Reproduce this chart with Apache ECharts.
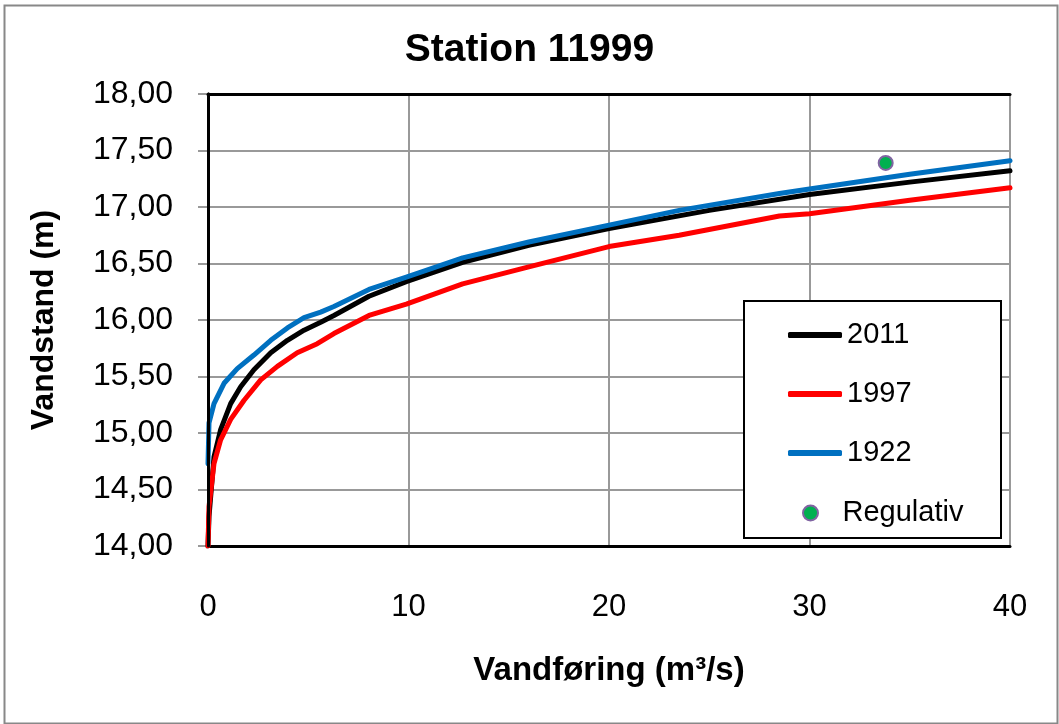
<!DOCTYPE html>
<html>
<head>
<meta charset="utf-8">
<script src="https://cdn.jsdelivr.net/npm/echarts@6/dist/echarts.min.js"></script>
<style>
html,body{margin:0;padding:0;background:#fff;}
#c{width:1059px;height:724px;}
</style>
</head>
<body>
<div id="c"></div>
<script>
// Data (Q in m3/s, H in m)
const q2011 = [0, 0.05, 0.3, 0.63, 1.13, 1.63, 2.29, 3.13, 3.96, 4.79, 5.62, 6.28, 8.03, 9.89, 12.7, 16, 20, 25, 30, 35, 40];
const h2011 = [14.0, 14.26, 14.79, 15.03, 15.26, 15.41, 15.56, 15.71, 15.82, 15.91, 15.98, 16.04, 16.21, 16.34, 16.51, 16.66, 16.81, 16.97, 17.11, 17.22, 17.32];
const q1997 = [0, 0.05, 0.3, 0.63, 1.13, 1.8, 2.63, 3.46, 4.45, 5.45, 6.28, 8.03, 9.89, 12.7, 16, 20, 23.5, 28.5, 30, 35, 40];
const h1997 = [14.0, 14.35, 14.73, 14.94, 15.12, 15.29, 15.47, 15.59, 15.71, 15.79, 15.88, 16.04, 16.14, 16.32, 16.47, 16.65, 16.75, 16.92, 16.94, 17.06, 17.17];
const q1922 = [0, 0.05, 0.3, 0.8, 1.46, 2.29, 3.13, 3.96, 4.79, 5.62, 6.28, 8.03, 9.89, 12.7, 16, 20, 23.5, 28.5, 30, 35, 40];
const h1922 = [14.73, 15.09, 15.26, 15.44, 15.57, 15.69, 15.82, 15.93, 16.02, 16.07, 16.12, 16.27, 16.38, 16.55, 16.69, 16.84, 16.97, 17.12, 17.16, 17.29, 17.41];
const qReg = [33.8];
const hReg = [17.39];
const seriesNames = ['2011', '1997', '1922', 'Regulativ'];
const title = 'Station 11999';
const xName = 'Vandføring (m³/s)';
const yName = 'Vandstand (m)';

const zip = (a, b) => a.map((v, i) => [v, b[i]]);
const FONT = 'Liberation Sans';

const chart = echarts.init(document.getElementById('c'), null, {renderer: 'canvas'});
const lineSeries = (name, q, h, color) => ({
  name, type: 'line', data: zip(q, h), showSymbol: false, symbol: 'none',
  lineStyle: {color, width: 5, cap: 'round', join: 'round'}, itemStyle: {color},
  animation: false, z: 3
});
chart.setOption({
  animation: false,
  backgroundColor: '#fff',
  title: {
    text: title, left: 'center', top: 26,
    textStyle: {fontFamily: FONT, fontWeight: 'bold', fontSize: 39, color: '#000'}
  },
  grid: {left: 208, right: 49, top: 94, bottom: 178},
  xAxis: [{
    type: 'value', min: 0, max: 40, interval: 10,
    name: xName, nameLocation: 'middle', nameGap: 108,
    nameTextStyle: {fontFamily: FONT, fontWeight: 'bold', fontSize: 33, color: '#000'},
    axisLine: {show: true, onZero: false, lineStyle: {color: '#000', width: 3}},
    axisTick: {show: false},
    axisLabel: {fontFamily: FONT, fontSize: 31, color: '#000', margin: 46},
    splitLine: {show: true, lineStyle: {color: '#999', width: 2}}
  }, {
    type: 'value', min: 0, max: 40, interval: 10, position: 'top',
    axisLine: {show: true, lineStyle: {color: '#000', width: 3}},
    axisTick: {show: false}, axisLabel: {show: false}, splitLine: {show: false}, z: 5
  }],
  yAxis: [{
    type: 'value', min: 14, max: 18, interval: 0.5,
    name: yName, nameLocation: 'middle', nameGap: 148,
    nameTextStyle: {fontFamily: FONT, fontWeight: 'bold', fontSize: 32, color: '#000'},
    axisLine: {show: true, onZero: false, lineStyle: {color: '#000', width: 3}},
    axisTick: {show: true, length: 10, lineStyle: {color: '#999', width: 2}},
    axisLabel: {fontFamily: FONT, fontSize: 32, color: '#000', margin: 35,
      formatter: v => v.toFixed(2).replace('.', ',')},
    splitLine: {show: true, lineStyle: {color: '#999', width: 2}}
  }, {
    type: 'value', min: 14, max: 18, interval: 0.5, position: 'right',
    axisLine: {show: true, lineStyle: {color: '#000', width: 3}},
    axisTick: {show: false}, axisLabel: {show: false}, splitLine: {show: false}, z: 5
  }],
  legend: [{
    data: seriesNames.slice(0, 3), orient: 'vertical', left: 783, top: 315,
    icon: 'roundRect', itemWidth: 54, itemHeight: 6, itemGap: 29,
    textStyle: {fontFamily: FONT, fontSize: 29, color: '#000', lineHeight: 30}, z: 6
  }, {
    data: [seriesNames[3]], orient: 'vertical', left: 797, top: 493,
    icon: 'circle', itemWidth: 54, itemHeight: 15,
    itemStyle: {opacity: 1},
    textStyle: {fontFamily: FONT, fontSize: 29, color: '#000', lineHeight: 30}, z: 6
  }],
  graphic: [{
    type: 'rect', left: 743, top: 300, shape: {width: 257, height: 237},
    style: {fill: '#fff', stroke: '#000', lineWidth: 2}, z: 1
  }, {
    type: 'rect', left: 2, top: 3, shape: {width: 1053, height: 718},
    style: {fill: 'none', stroke: '#888', lineWidth: 2}, silent: true, z: 1
  }],
  series: [
    lineSeries(seriesNames[0], q2011, h2011, '#000000'),
    lineSeries(seriesNames[1], q1997, h1997, '#ff0000'),
    lineSeries(seriesNames[2], q1922, h1922, '#0070c0'),
    {
      name: seriesNames[3], type: 'scatter', data: zip(qReg, hReg),
      symbol: 'circle', symbolSize: 14,
      itemStyle: {color: '#00b050', borderColor: '#8064a2', borderWidth: 2, opacity: 1}, z: 4
    }
  ]
});
</script>
</body>
</html>
